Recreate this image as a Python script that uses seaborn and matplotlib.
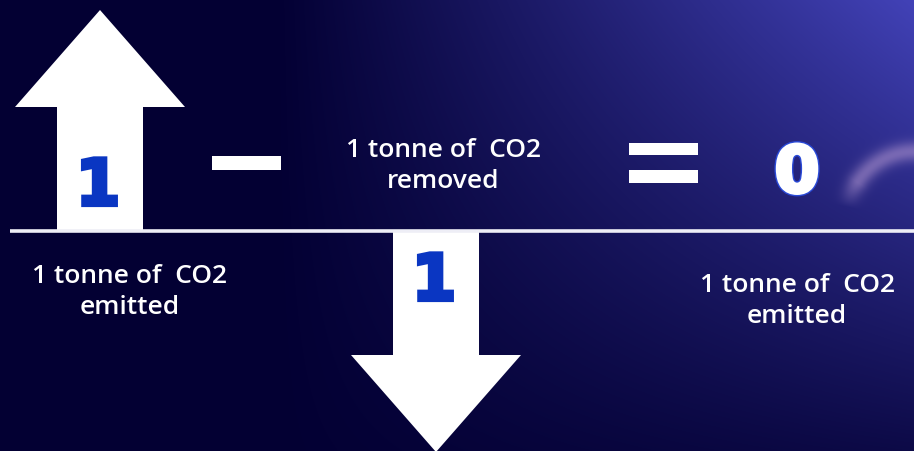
import numpy as np
import matplotlib
matplotlib.use("Agg")
from matplotlib import pyplot as plt
from matplotlib import patheffects as pe
from matplotlib.patches import Rectangle
import seaborn as sns

# data: tonnes of CO2
labels = ["1 tonne of  CO2\nemitted", "1 tonne of  CO2\nremoved", "1 tonne of  CO2\nemitted"]
emitted = 1
removed = -1
net = emitted + removed
values = [emitted, removed]
big_numbers = ["1", "1"]

# layout (x in pixels, y in tonnes: 221 px per tonne, baseline at pixel row 232)
W, H = 914, 452
BASE_PX, UNIT_PX = 232, 221
arrow_x = [100, 436]


def py(px):
    return (BASE_PX - px) / UNIT_PX


sns.set_style("white")
plt.rcParams['font.family'] = ['Open Sans', 'DejaVu Sans']

fig = plt.figure(figsize=(W / 100, H / 100), dpi=100)
ax = fig.add_axes([0, 0, 1, 1])
ax.set_xlim(0, W)
ax.set_ylim(py(H), py(0))
ax.axis('off')

# background gradient with a faint blurred arc on the right
X, Y = np.meshgrid(np.arange(W), np.arange(H))
fx = np.clip((X / W - 0.3) / 0.7, 0, 1)
fy = 0.15 + 0.85 * (1 - Y / H)
glow = fx * fy
dark = np.array([0.012, 0.0, 0.2])
light = np.array([0.26, 0.26, 0.72])
img = dark + glow[..., None] * (light - dark)
r = np.hypot(X - 915, Y - 222)
ang = np.degrees(np.arctan2(222 - Y, 915 - X))
ring = np.exp(-((r - 70) / 10) ** 2) * np.clip((ang - 12) / 22, 0, 1) * (ang < 100)
pink = np.array([0.66, 0.56, 0.80])
img = img + 0.6 * ring[..., None] * (pink - img)
ax.imshow(np.clip(img, 0, 1), extent=(0, W, py(H), py(0)), aspect='auto', zorder=0)

# baseline
ax.plot([10, W], [0, 0], color='#eeeef6', lw=2.6, zorder=3, solid_capstyle='butt')

# arrows
for x, v in zip(arrow_x, values):
    ax.arrow(x, 0, 0, v, width=86, head_width=170, head_length=97 / UNIT_PX,
             length_includes_head=True, color='white', lw=0, zorder=2)

# big numbers inside arrows
thick = [pe.withStroke(linewidth=3, foreground='#0a36c2', joinstyle='miter')]
ax.text(arrow_x[0] - 2, py(188), big_numbers[0], color='#0a36c2', fontsize=46,
        fontweight='bold', family='DejaVu Sans', ha='center', va='center', zorder=4,
        path_effects=thick)
ax.text(arrow_x[1] - 2, py(283), big_numbers[1], color='#0a36c2', fontsize=46,
        fontweight='bold', family='DejaVu Sans', ha='center', va='center', zorder=4,
        path_effects=thick)

# operators
ax.add_patch(Rectangle((212, py(171)), 69, 14 / UNIT_PX, color='white', lw=0, zorder=4))
ax.add_patch(Rectangle((629, py(156)), 69, 12 / UNIT_PX, color='white', lw=0, zorder=4))
ax.add_patch(Rectangle((629, py(184)), 69, 13 / UNIT_PX, color='white', lw=0, zorder=4))

# result
ax.text(797, py(175), str(net), color='white', fontsize=46, fontweight='bold',
        family='DejaVu Sans', ha='center', va='center', zorder=4,
        path_effects=[pe.Stroke(linewidth=5, foreground='#2a4ad8'),
                      pe.Stroke(linewidth=3, foreground='white'), pe.Normal()])

# labels
lab_pos = [(130, 292), (443, 166), (797, 301)]
for (x, y), t in zip(lab_pos, labels):
    ax.text(x, py(y), t, color='white', fontsize=19, fontweight='semibold',
            ha='center', va='center', linespacing=1.35, zorder=4)

fig.savefig("out.png", dpi=100)
